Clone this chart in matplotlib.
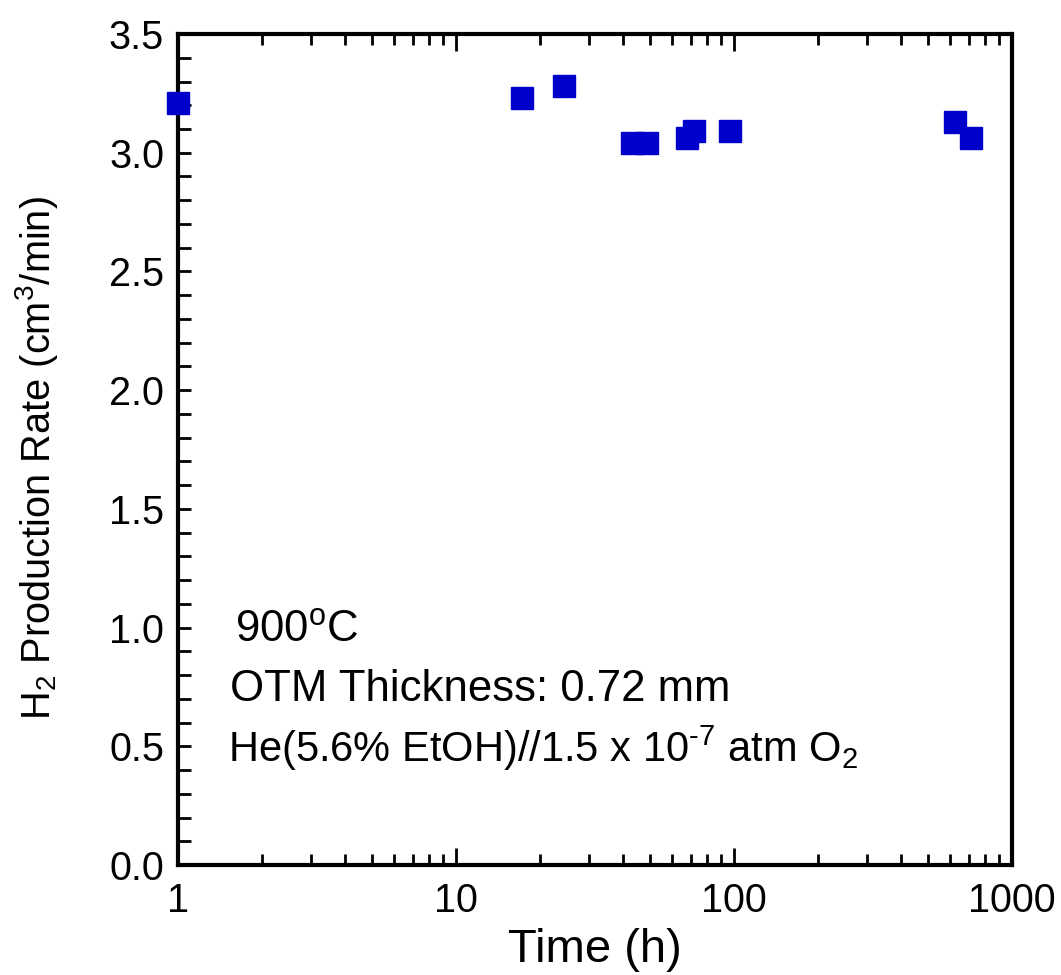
import matplotlib.pyplot as plt
from matplotlib.ticker import FixedLocator, MultipleLocator, LogLocator, NullFormatter

plt.rcParams['font.family'] = ['Liberation Sans', 'DejaVu Sans']
plt.rcParams['mathtext.fontset'] = 'custom'
plt.rcParams['mathtext.rm'] = 'Liberation Sans'
plt.rcParams['mathtext.it'] = 'Liberation Sans:italic'

# data
tiempo = [1.0, 17.3, 24.5, 42.8, 48.7, 67.8, 71.8, 96.7, 624, 712]
tasa_h2 = [3.21, 3.23, 3.28, 3.04, 3.04, 3.06, 3.09, 3.09, 3.13, 3.06]
xticks = [1, 10, 100, 1000]
xtick_labels = ['1', '10', '100', '1000']

fig = plt.figure(figsize=(10.61, 9.75), dpi=100)
ax = fig.add_axes([0.1678, 0.1128, 0.786, 0.8523])

ax.plot(tiempo, tasa_h2, linestyle='none', marker='s', markersize=15.5,
        color='#0000CD', markeredgecolor='#0000CD', clip_on=False, zorder=5)

ax.set_xscale('log')
ax.set_xlim(1, 1000)
ax.set_ylim(0, 3.5)

ax.xaxis.set_major_locator(FixedLocator(xticks))
ax.set_xticklabels(xtick_labels)
ax.xaxis.set_minor_locator(LogLocator(base=10, subs=range(2, 10)))
ax.xaxis.set_minor_formatter(NullFormatter())
ax.yaxis.set_major_locator(MultipleLocator(0.5))
ax.yaxis.set_minor_locator(MultipleLocator(0.1))
ax.yaxis.set_major_formatter(plt.FuncFormatter(lambda v, p: f'{v:.1f}'))

ax.tick_params(axis='x', which='both', direction='in', top=True, bottom=True,
               labelsize=28.5, pad=12, width=2)
ax.tick_params(axis='x', which='major', length=12)
ax.tick_params(axis='x', which='minor', length=8)
ax.tick_params(axis='y', which='both', direction='in', left=True, right=False,
               labelsize=28.5, pad=10, width=2, length=9)

for s in ax.spines.values():
    s.set_linewidth(3)

ax.set_xlabel('Time (h)', fontsize=34, labelpad=6)
ax.set_ylabel('H$_2$ Production Rate (cm$^3$/min)', fontsize=28.6)
ax.yaxis.set_label_coords(-0.141, 0.49)

ax.text(0.068, 0.283, '900$^{\\mathrm{o}}$C', transform=ax.transAxes,
        fontsize=31.5, va='center')
ax.text(0.062, 0.211, 'OTM Thickness: 0.72 mm', transform=ax.transAxes,
        fontsize=31.5, va='center')
ax.text(0.060, 0.141, 'He(5.6% EtOH)//1.5 x 10$^{\\mathrm{\u20107}}$ atm O$_2$',
        transform=ax.transAxes, fontsize=30, va='center')

plt.savefig('out.png', dpi=100)
